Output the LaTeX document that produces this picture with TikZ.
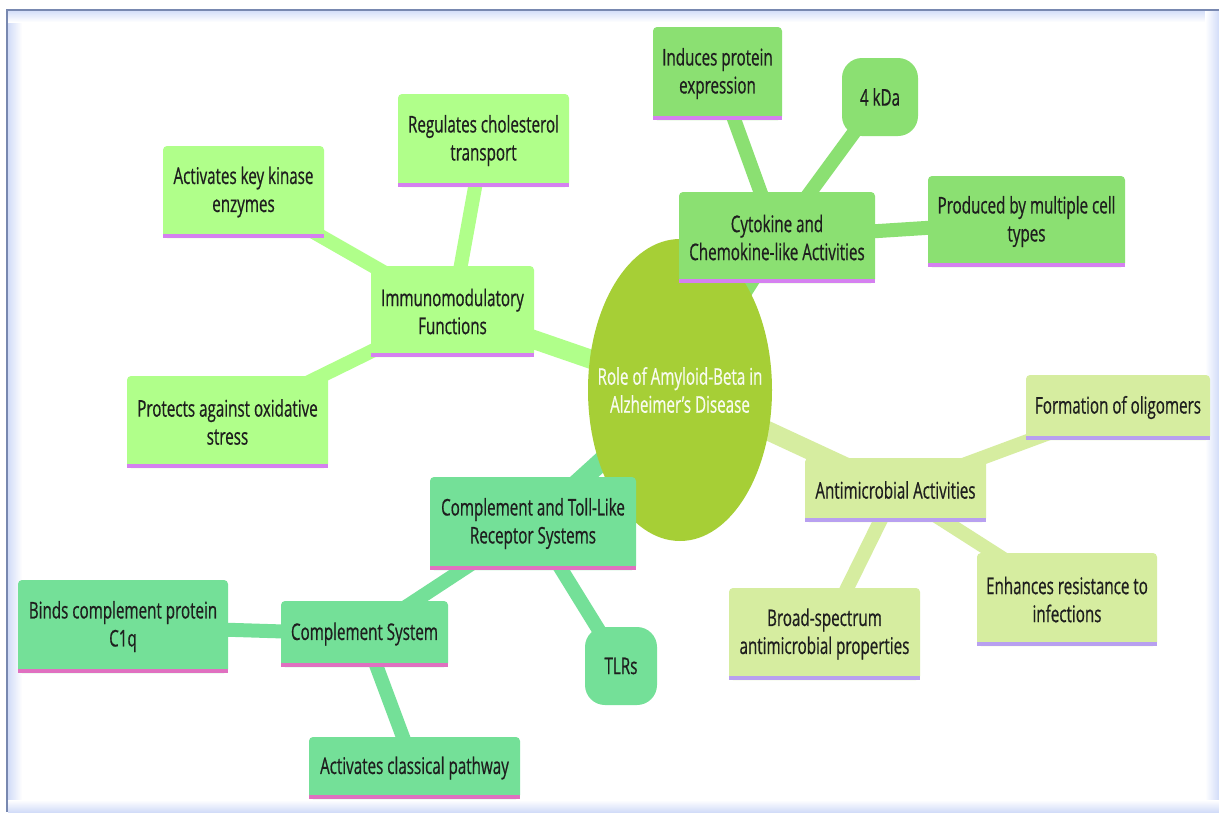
\documentclass[tikz,border=0pt]{standalone}
\usepackage{fontspec}
\setmainfont{Open Sans}[FakeStretch=0.66, FakeBold=0.6]
\usetikzlibrary{backgrounds}
\definecolor{cyA}{HTML}{8BE072}
\definecolor{imA}{HTML}{B0FF8A}
\definecolor{coA}{HTML}{74E098}
\definecolor{anA}{HTML}{D6EDA0}
\definecolor{ctrA}{HTML}{A6CF36}
\definecolor{ulM}{HTML}{D580F0}
\definecolor{ulP}{HTML}{E070C0}
\definecolor{ulL}{HTML}{B8A0F0}
\definecolor{txt}{HTML}{1E1E1E}
\definecolor{frameline}{HTML}{7888B0}
\definecolor{frameglow}{HTML}{D2DCF8}
\newcommand{\mmfont}{\fontsize{23}{28}\selectfont}
\tikzset{
  mmbox/.style={rounded corners=4pt, inner sep=2pt, align=center, text=txt, font=\mmfont},
  cybox/.style={mmbox, fill=cyA},
  imbox/.style={mmbox, fill=imA},
  cobox/.style={mmbox, fill=coA},
  anbox/.style={mmbox, fill=anA},
  mainlink/.style={line width=19pt},
  sublink/.style={line width=14pt},
}
\begin{document}
\begin{tikzpicture}[x=1pt,y=-1pt]
\useasboundingbox (0,0) rectangle (1219,812);
\begin{scope}[on background layer]
\fill[white] (0,0) rectangle (1219,812);
% frame glow
\fill[left color=frameglow, right color=white] (8,10) rectangle (22,812);
\fill[top color=frameglow, bottom color=white] (8,10) rectangle (1219,22);
\fill[left color=white, right color=frameglow] (1205,10) rectangle (1219,812);
\fill[top color=white, bottom color=frameglow] (8,800) rectangle (1219,812);
\draw[frameline, line width=2pt] (7,812) -- (7,10) -- (1219,10);
\end{scope}

% centre
\fill[ctrA] (680,390) ellipse [x radius=92, y radius=151];
\node[align=center, text=white!92!ctrA, font=\mmfont, inner sep=0pt] (ctr) at (680,390)
  {Role of Amyloid-Beta in\\Alzheimer's Disease};

% cytokine branch
\node[cybox, minimum width=196pt, minimum height=91pt] (cyto) at (777,237.5) {Cytokine and\\Chemokine-like Activities};
\node[cybox, minimum width=129pt, minimum height=93pt] (induces) at (717.5,73.5) {Induces protein\\expression};
\node[cybox, rounded corners=20pt, minimum width=76pt, minimum height=78pt] (kda) at (880,97) {4 kDa};
\node[cybox, minimum width=197pt, minimum height=91pt] (produced) at (1026.5,221.5) {Produced by multiple cell\\types};

% immunomodulatory branch
\node[imbox, minimum width=163pt, minimum height=91pt] (immuno) at (452.5,311.5) {Immunomodulatory\\Functions};
\node[imbox, minimum width=171pt, minimum height=93pt] (chol) at (483.5,140.5) {Regulates cholesterol\\transport};
\node[imbox, minimum width=161pt, minimum height=92pt] (kinase) at (243.5,192) {Activates key kinase\\enzymes};
\node[imbox, minimum width=201pt, minimum height=92pt] (protects) at (227.5,422) {Protects against oxidative\\stress};

% complement branch
\node[cobox, minimum width=206pt, minimum height=93pt] (ctoll) at (533,523.5) {Complement and Toll-Like\\Receptor Systems};
\node[cobox, minimum width=167pt, minimum height=66pt] (csys) at (364.5,634) {Complement System};
\node[cobox, minimum width=210pt, minimum height=93pt] (binds) at (123,626.5) {Binds complement protein\\C1q};
\node[cobox, minimum width=211pt, minimum height=62pt] (classical) at (414.5,768) {Activates classical pathway};
\node[cobox, rounded corners=20pt, minimum width=72pt, minimum height=78pt] (tlrs) at (621,666) {TLRs};

% antimicrobial branch
\node[anbox, minimum width=181pt, minimum height=64pt] (anti) at (895.5,490) {Antimicrobial Activities};
\node[anbox, minimum width=184pt, minimum height=65pt] (olig) at (1118,407.5) {Formation of oligomers};
\node[anbox, minimum width=180pt, minimum height=93pt] (enh) at (1067,599.5) {Enhances resistance to\\infections};
\node[anbox, minimum width=191pt, minimum height=92pt] (broad) at (824.5,634) {Broad-spectrum\\antimicrobial properties};

% underlines
\foreach \n/\c in {cyto/ulM, induces/ulM, produced/ulM, immuno/ulM, chol/ulM, kinase/ulM, protects/ulM,
  ctoll/ulP, csys/ulP, binds/ulP, classical/ulP, anti/ulL, olig/ulL, enh/ulL, broad/ulL}
  \fill[\c] (\n.south west) rectangle ([yshift=4pt]\n.south east);

% connectors
\begin{scope}[on background layer]
  \draw[mainlink, cyA] (ctr.center) -- (cyto.center);
  \draw[mainlink, imA] (ctr.center) -- (immuno.center);
  \draw[mainlink, coA] (ctr.center) -- (ctoll.center);
  \draw[mainlink, anA] (ctr.center) -- (anti.center);
  \draw[sublink, cyA] (cyto.center) -- (induces.center);
  \draw[sublink, cyA] (cyto.center) -- (kda.center);
  \draw[sublink, cyA] (cyto.center) -- (produced.center);
  \draw[sublink, imA] (immuno.center) -- (chol.center);
  \draw[sublink, imA] (immuno.center) -- (kinase.center);
  \draw[sublink, imA] (immuno.center) -- (protects.center);
  \draw[sublink, coA] (ctoll.center) -- (csys.center);
  \draw[sublink, coA] (ctoll.center) -- (tlrs.center);
  \draw[sublink, coA] (csys.center) -- (binds.center);
  \draw[sublink, coA] (csys.center) -- (classical.center);
  \draw[sublink, anA] (anti.center) -- (olig.center);
  \draw[sublink, anA] (anti.center) -- (enh.center);
  \draw[sublink, anA] (anti.center) -- (broad.center);
\end{scope}
\end{tikzpicture}
\end{document}
